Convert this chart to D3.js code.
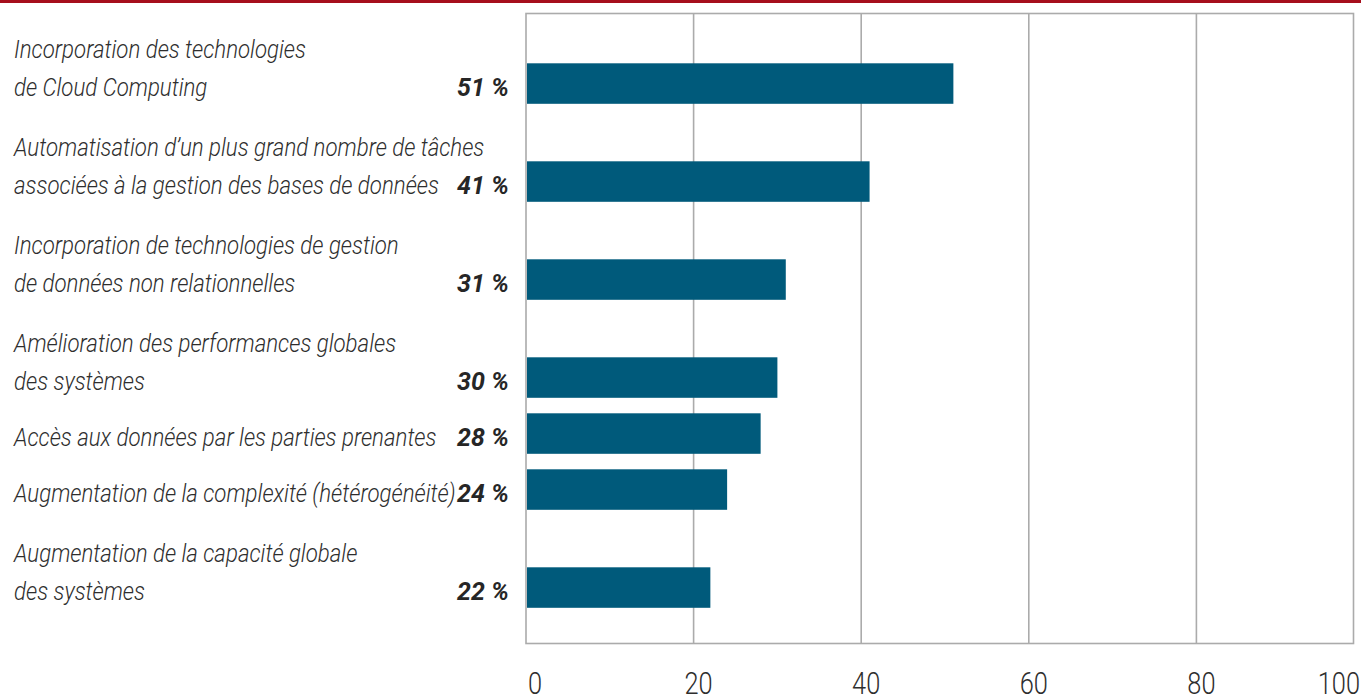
<!DOCTYPE html>
<html>
<head>
<meta charset="utf-8">
<script src="https://cdn.jsdelivr.net/npm/d3@7"></script>
<style>
  html, body { margin: 0; padding: 0; background: #fff; }
  svg { display: block; }
  .lbl { font-family: Roboto, "Liberation Sans", sans-serif; font-style: italic; font-weight: 300; font-size: 25px; fill: #2e2e2e; }
  .val { font-family: Roboto, "Liberation Sans", sans-serif; font-style: italic; font-weight: 700; font-size: 25px; fill: #262626; }
  .tick { font-family: Roboto, "Liberation Sans", sans-serif; font-weight: 300; font-size: 31px; fill: #2e2e2e; }
</style>
</head>
<body>
<svg id="chart" width="1361" height="696"></svg>
<script>
// Survey answers: each category is split into its printed lines
const categories = [
  ["Incorporation des technologies", "de Cloud Computing"],
  ["Automatisation d\u2019un plus grand nombre de tâches", "associées à la gestion des bases de données"],
  ["Incorporation de technologies de gestion", "de données non relationnelles"],
  ["Amélioration des performances globales", "des systèmes"],
  ["Accès aux données par les parties prenantes"],
  ["Augmentation de la complexité (hétérogénéité)"],
  ["Augmentation de la capacité globale", "des systèmes"]
];
const values = [51, 41, 31, 30, 28, 24, 22];
const tickValues = [0, 20, 40, 60, 80, 100];

const svg = d3.select("#chart");

// layout constants
const plotLeft = 526, plotTop = 13.5, plotRight = 1353.5, plotBottom = 643.5;
const barH = 40.5, firstBarTop = 63.3, lineStep = 38;
const condense = 0.89;      // horizontal squeeze for the condensed type look

const x = d3.scaleLinear().domain([0, 100]).range([plotLeft, plotLeft + 838]);

// rows with two printed lines take more vertical room than single-line rows
const rowTops = [];
categories.forEach((lines, i) => {
  if (i === 0) rowTops.push(firstBarTop);
  else rowTops.push(rowTops[i - 1] + 14 + 42 * lines.length);
});

// positioned, horizontally condensed text
function ctext(parent, cls, px, py, str, anchor, k) {
  return parent.append("text").attr("class", cls)
    .attr("transform", `translate(${px},${py}) scale(${k},1)`)
    .attr("text-anchor", anchor || "start")
    .text(str);
}

// red rule across the top
svg.append("rect").attr("x", 0).attr("y", 0).attr("width", 1361).attr("height", 3).attr("fill", "#a60f1c");

// grid
const grid = svg.append("g").attr("stroke", "#ababab").attr("stroke-width", 1.6).attr("fill", "none");
grid.append("rect")
  .attr("x", plotLeft).attr("y", plotTop)
  .attr("width", plotRight - plotLeft).attr("height", plotBottom - plotTop);
grid.selectAll("line.g").data(tickValues.filter(v => v > 0 && v < 100)).join("line")
  .attr("x1", d => x(d)).attr("x2", d => x(d))
  .attr("y1", plotTop).attr("y2", plotBottom);

// bars
svg.append("g").selectAll("rect").data(values).join("rect")
  .attr("x", x(0) + 1)
  .attr("y", (d, i) => rowTops[i])
  .attr("width", d => x(d) - x(0) - 1)
  .attr("height", barH)
  .attr("fill", "#005a7b");

// category labels: last line sits level with its bar
const lab = svg.append("g");
categories.forEach((lines, i) => {
  const base = rowTops[i] + barH / 2 + 12.5;
  lines.forEach((t, j) => {
    ctext(lab, "lbl", 14, base - (lines.length - 1 - j) * lineStep, t, "start", condense);
  });
  ctext(lab, "val", 509, base, values[i] + " %", "end", 1);
});

// axis numbers under the frame
const tg = svg.append("g");
tickValues.forEach(d => {
  const px = d === 0 ? x(0) + 2 : d === 100 ? 1360 : x(d) + 5;
  const anchor = d === 0 ? "start" : d === 100 ? "end" : "middle";
  ctext(tg, "tick", px, 694, d, anchor, 0.82);
});
</script>
</body>
</html>
